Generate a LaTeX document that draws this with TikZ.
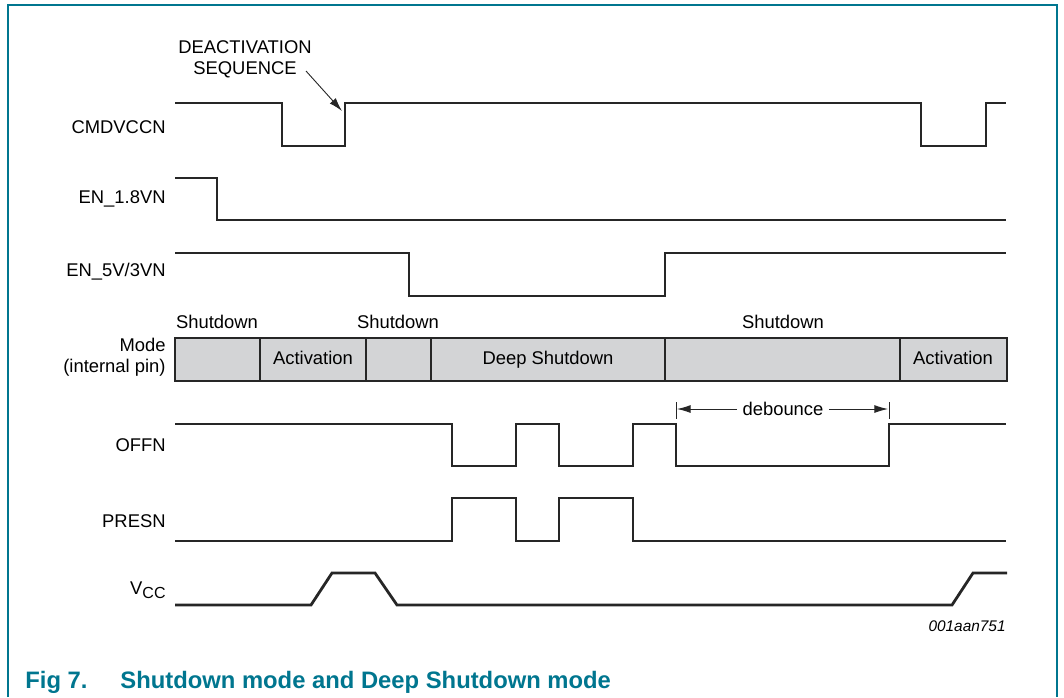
\documentclass[tikz,border=0pt]{standalone}
\usepackage{fontspec}
\setmainfont{Liberation Sans}
\usetikzlibrary{arrows.meta,positioning,calc}
\definecolor{nxpteal}{RGB}{0,118,143}
\definecolor{modegray}{RGB}{211,212,214}
\tikzset{
  sig/.style     = {draw=black!85, line width=1.4pt, line join=miter},
  lab/.style     = {font=\fontsize{9.2}{10.5}\selectfont, anchor=east, align=right, inner sep=0pt},
  txt/.style     = {font=\fontsize{9.2}{10.5}\selectfont, align=center, inner sep=1pt},
  fine/.style    = {draw=black!85, line width=0.45pt},
  arr/.style     = {-{Latex[length=2.4mm,width=1.4mm]}, fine},
  captxt/.style  = {font=\fontsize{11.9}{14}\selectfont\bfseries, text=nxpteal,
                    anchor=base west, inner sep=0pt},
}

\begin{document}
\begin{tikzpicture}[x=0.5pt, y=-0.5pt]
  \useasboundingbox (0,0) rectangle (1064,697);
  % frame
  \draw[nxpteal, line width=1pt] (8,697) -- (8,5) -- (1057,5) -- (1057,697);

  % signal names
  \node[lab] (cmd)  at (166,127) {CMDVCCN};
  \node[lab] (en18) at (166,199) {EN\_1.8VN};
  \node[lab] (en5)  at (166,272) {EN\_5V/3VN};
  \node[lab] (mode) at (166,357) {Mode\\(internal pin)};
  \node[lab] (offn) at (166,445) {OFFN};
  \node[lab] (pres) at (166,521) {PRESN};
  \node[lab] (vcc)  at (166,590) {V\raisebox{-0.45ex}{\fontsize{8}{9}\selectfont CC}};

  % CMDVCCN
  \draw[sig] (175,103) -- (282,103) -- (282,146) -- (345,146) -- (345,103)
    -- (921,103) -- (921,146) -- (986,146) -- (986,103) -- (1006,103);
  \coordinate (deact) at (342,111);
  \node[txt] (seq) at (245,59) {DEACTIVATION\\SEQUENCE};
  \draw[arr] (306,71) -- (deact);

  % EN_1.8VN
  \draw[sig] (175,178) -- (217,178) -- (217,220) -- (1006,220);

  % EN_5V/3VN
  \draw[sig] (175,253) -- (409,253) -- (409,296) -- (665,296) -- (665,253) -- (1006,253);

  % mode bar
  \draw[line width=1.3pt, draw=black!85, fill=modegray] (175,338) rectangle (1007,381);
  \foreach \xd in {260,366,431,665,900}
    \draw[line width=1.3pt, draw=black!85] (\xd,338) -- (\xd,381);
  \node[txt, anchor=mid] (act1) at (313,359) {Activation};
  \node[txt, anchor=mid] (deep) at (548,359) {Deep Shutdown};
  \node[txt, anchor=mid] (act2) at (953,359) {Activation};
  \node[txt] (sd1)  at (217,322) {Shutdown};
  \node[txt] (sd2)  at (398,322) {Shutdown};
  \node[txt] (sd3)  at (783,322) {Shutdown};

  % OFFN
  \draw[sig] (175,424) -- (452,424) -- (452,466) -- (516,466) -- (516,424)
    -- (559,424) -- (559,466) -- (633,466) -- (633,424) -- (676,424)
    -- (676,466) -- (889,466) -- (889,424) -- (1006,424);
  % debounce
  \coordinate (dbl) at (677,409);
  \coordinate (dbr) at (888,409);
  \draw[fine] (676,402) -- (676,419);
  \draw[fine] (889,402) -- (889,419);
  \node[txt, fill=white, inner sep=2.5pt] (deb) at (783,409) {debounce};
  \draw[arr] (deb.west) -- (dbl);
  \draw[arr] (deb.east) -- (dbr);

  % PRESN
  \draw[sig] (175,541) -- (452,541) -- (452,498) -- (516,498) -- (516,541)
    -- (559,541) -- (559,498) -- (633,498) -- (633,541) -- (1006,541);

  % VCC
  \draw[sig] (175,605) -- (311,605) -- (332,573) -- (375,573) -- (397,605)
    -- (952,605) -- (973,573) -- (1007,573);

  \node[font=\fontsize{7.7}{9}\selectfont\itshape, anchor=east, inner sep=0pt] (ref) at (1006,626) {001aan751};

  % caption
  \node[captxt] (fig) at (25,688) {Fig 7.};
  \node[captxt] (title) at (120,688) {Shutdown mode and Deep Shutdown mode};
\end{tikzpicture}
\end{document}
